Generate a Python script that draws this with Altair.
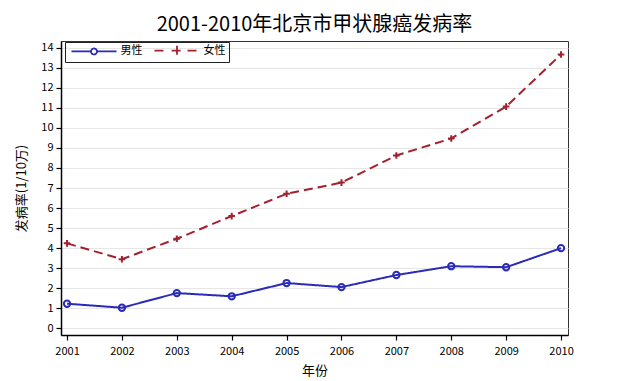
import altair as alt
import pandas as pd

years = [2001, 2002, 2003, 2004, 2005, 2006, 2007, 2008, 2009, 2010]
male = [1.23, 1.03, 1.76, 1.60, 2.26, 2.06, 2.66, 3.10, 3.05, 4.00]
female = [4.24, 3.45, 4.47, 5.60, 6.71, 7.27, 8.62, 9.47, 11.06, 13.66]
series = ["男性", "女性"]
colors = ["#2b2bb8", "#a3202f"]
y_ticks = list(range(0, 15))

rows = []
for y, m, f in zip(years, male, female):
    rows.append({"年份": y, "发病率": m, "性别": series[0]})
    rows.append({"年份": y, "发病率": f, "性别": series[1]})
df = pd.DataFrame(rows)

FONT = "Noto Sans CJK SC"

x_enc = alt.X("年份:Q", scale=alt.Scale(domain=[2000.89, 2010.127], nice=False, zero=False),
              axis=alt.Axis(values=years, format="d", title="年份", grid=False,
                            tickSize=5, labelPadding=5, titlePadding=8))
y_enc = alt.Y("发病率:Q", scale=alt.Scale(domain=[-0.33, 14.33], nice=False, zero=False),
              axis=alt.Axis(values=y_ticks, title="发病率(1/10万)", grid=True,
                            tickSize=5, labelPadding=3, titlePadding=12))

legend = alt.Legend(title=None, orient="none", legendX=4, legendY=1, direction="horizontal",
                    strokeColor="#222", padding=3, symbolOffset=20.5, labelOffset=21,
                    columnPadding=7, symbolSize=36, symbolStrokeWidth=1.8,
                    labelFontSize=11, labelFont=FONT, symbolOpacity=1)

color_enc = alt.Color("性别:N", scale=alt.Scale(domain=series, range=colors), legend=legend)

line = alt.Chart(df).mark_line(strokeWidth=2).encode(
    x=x_enc, y=y_enc, color=color_enc,
    strokeDash=alt.StrokeDash("性别:N", scale=alt.Scale(domain=series, range=[[1, 0], [9, 5]]),
                              legend=None),
)

pts_m = alt.Chart(df).transform_filter(alt.datum["性别"] == series[0]).mark_point(
    shape="circle", filled=False, size=40, strokeWidth=2, opacity=1
).encode(x=x_enc, y=y_enc, color=color_enc)

plus_path = "M-1.1,0H1.1M0,-1.1V1.1"
pts_f2 = alt.Chart(df).transform_filter(alt.datum["性别"] == series[1]).mark_point(
    shape=plus_path, filled=False, size=36, strokeWidth=2, opacity=1,
).encode(x=x_enc, y=y_enc, color=color_enc)

male_sym = "M-7.5,0H-1M1,0H7.5M-1,0A1,1 0 1,0 1,0A1,1 0 1,0 -1,0"
female_sym = "M-7.5,0H-3.5M-1.8,0H1.8M3.5,0H7.5M0,-1.6V1.6"
legend_layer = alt.Chart(df).transform_filter(alt.datum["发病率"] < -100).mark_point(
    filled=False, strokeWidth=1.8
).encode(
    x=x_enc, y=y_enc, color=color_enc,
    shape=alt.Shape("性别:N", scale=alt.Scale(domain=series, range=[male_sym, female_sym]),
                    legend=legend),
)

chart = alt.layer(line, pts_m, pts_f2, legend_layer).properties(
    width=507, height=294,
    title=alt.Title("2001-2010年北京市甲状腺癌发病率", fontSize=20, font=FONT,
                    fontWeight="normal", color="#000", offset=6),
    autosize=alt.AutoSizeParams(type="none"),
    padding={"left": 53, "top": 33, "right": 50, "bottom": 48},
).configure(font=FONT).configure_axis(
    labelFont=FONT, titleFont=FONT, labelFontSize=11, titleFontSize=13,
    titleFontWeight="normal", labelColor="#000", titleColor="#000",
    domainColor="#000", domainWidth=1.5, tickColor="#000", tickWidth=1.2,
    gridColor="#e6e6e6", gridWidth=1.2,
).configure_view(stroke="#333", strokeWidth=1)

chart.save("out.html", embed_options={"renderer": "svg", "actions": False})
